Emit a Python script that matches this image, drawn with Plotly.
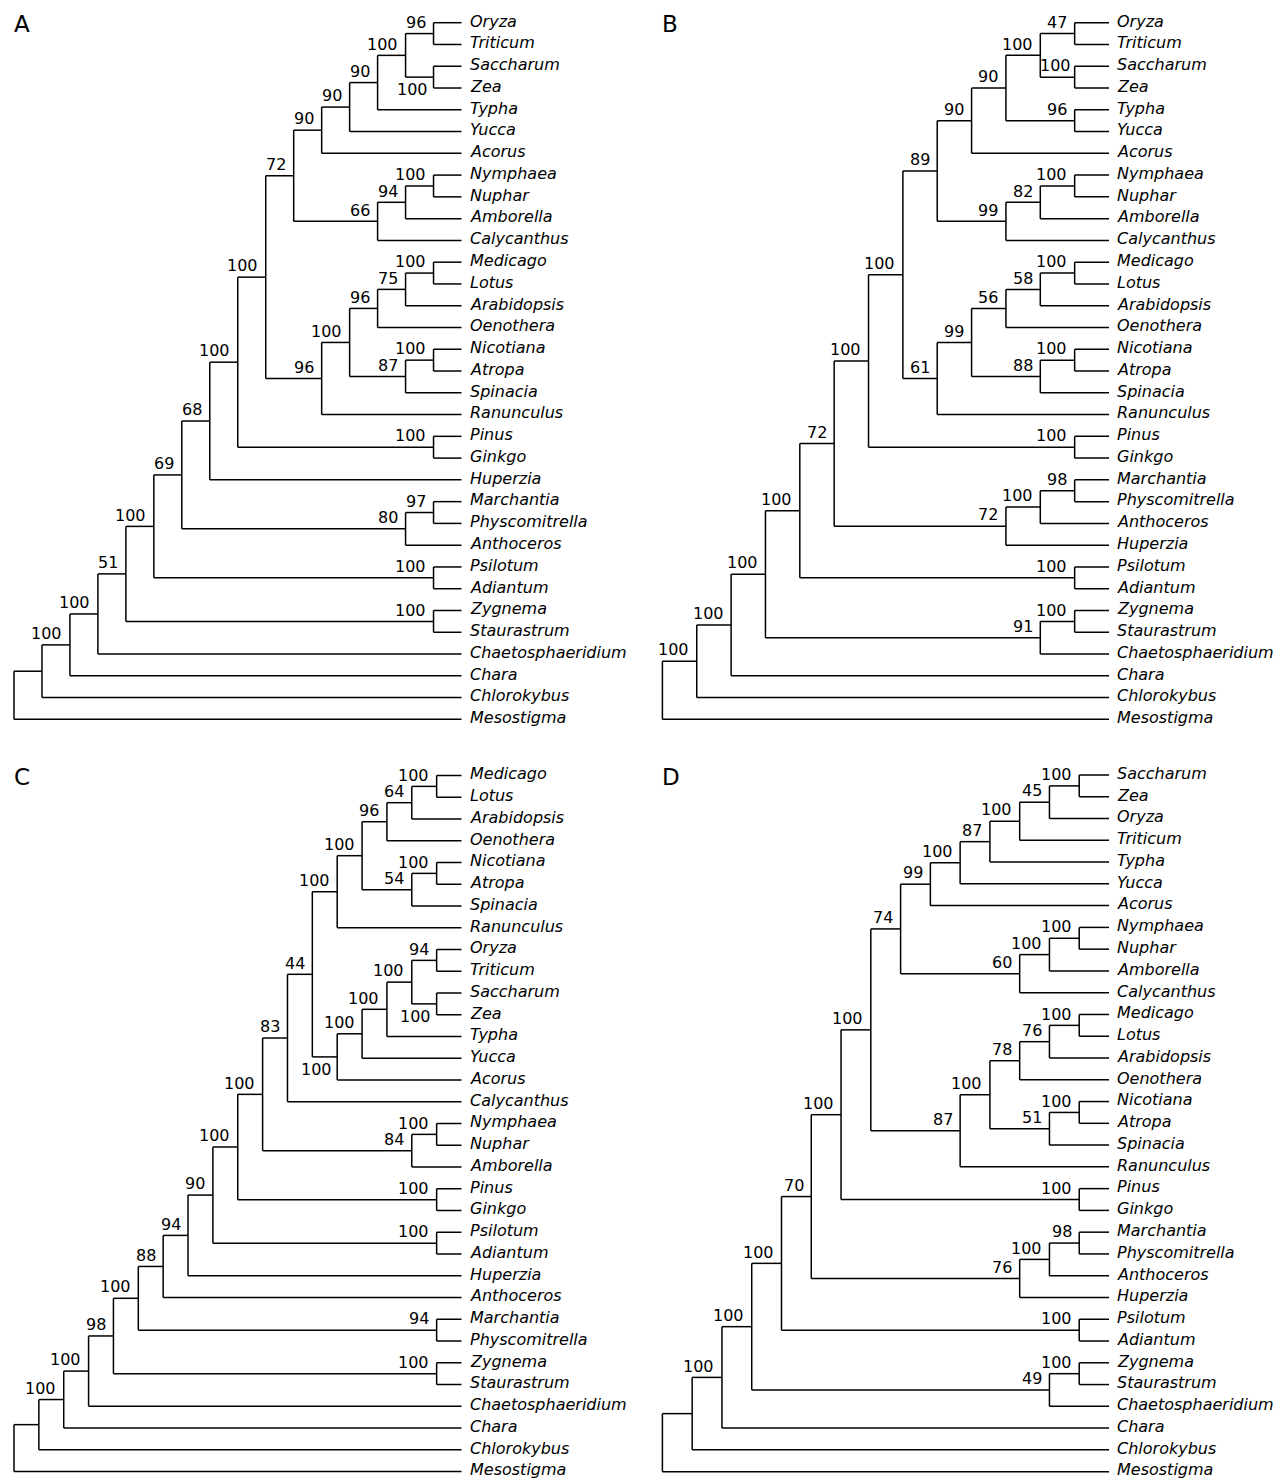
import plotly.graph_objects as go

# ---------------- data: trees as nested tuples (support, child1, child2, ...) ----------------
MONO_A = (90, (90, (90, (100, (96, "Oryza", "Triticum"), (100, "Saccharum", "Zea")), "Typha"), "Yucca"), "Acorus")
MAG_A = (66, (94, (100, "Nymphaea", "Nuphar"), "Amborella"), "Calycanthus")
EUD_A = (96, (100, (96, (75, (100, "Medicago", "Lotus"), "Arabidopsis"), "Oenothera"),
              (87, (100, "Nicotiana", "Atropa"), "Spinacia")), "Ranunculus")
TREE_A = (None, (None, (100, (100, (51, (100, (69, (68, (100, (100, (72, MONO_A, MAG_A), EUD_A),
                                                           (100, "Pinus", "Ginkgo")),
                                                     "Huperzia"),
                                                (80, (97, "Marchantia", "Physcomitrella"), "Anthoceros")),
                                          (100, "Psilotum", "Adiantum")),
                                    (100, "Zygnema", "Staurastrum")),
                              "Chaetosphaeridium"),
                        "Chara"),
                  "Chlorokybus"),
          "Mesostigma")

MONO_B = (90, (90, (100, (47, "Oryza", "Triticum"), (100, "Saccharum", "Zea")), (96, "Typha", "Yucca")), "Acorus")
MAG_B = (99, (82, (100, "Nymphaea", "Nuphar"), "Amborella"), "Calycanthus")
EUD_B = (61, (99, (56, (58, (100, "Medicago", "Lotus"), "Arabidopsis"), "Oenothera"),
              (88, (100, "Nicotiana", "Atropa"), "Spinacia")), "Ranunculus")
TREE_B = (None, (100, (100, (100, (100, (72, (100, (100, (89, MONO_B, MAG_B), EUD_B),
                                                (100, "Pinus", "Ginkgo")),
                                          (72, (100, (98, "Marchantia", "Physcomitrella"), "Anthoceros"), "Huperzia")),
                                    (100, "Psilotum", "Adiantum")),
                              (91, (100, "Zygnema", "Staurastrum"), "Chaetosphaeridium")),
                        "Chara"),
                  "Chlorokybus"),
          "Mesostigma")

EUD_C = (100, (100, (96, (64, (100, "Medicago", "Lotus"), "Arabidopsis"), "Oenothera"),
               (54, (100, "Nicotiana", "Atropa"), "Spinacia")), "Ranunculus")
MONO_C = (100, (100, (100, (100, (94, "Oryza", "Triticum"), (100, "Saccharum", "Zea")), "Typha"), "Yucca"), "Acorus")
TREE_C = (None, (None, (100, (100, (98, (100, (88, (94, (90, (100, (100, (83, (44, EUD_C, MONO_C), "Calycanthus"),
                                                                      (84, (100, "Nymphaea", "Nuphar"), "Amborella")),
                                                                (100, "Pinus", "Ginkgo")),
                                                          (100, "Psilotum", "Adiantum")),
                                                    "Huperzia"),
                                              "Anthoceros"),
                                        (94, "Marchantia", "Physcomitrella")),
                                  (100, "Zygnema", "Staurastrum")),
                            "Chaetosphaeridium"),
                      "Chara"),
                "Chlorokybus"),
          "Mesostigma")

MONO_D = (99, (100, (87, (100, (45, (100, "Saccharum", "Zea"), "Oryza"), "Triticum"), "Typha"), "Yucca"), "Acorus")
MAG_D = (60, (100, (100, "Nymphaea", "Nuphar"), "Amborella"), "Calycanthus")
EUD_D = (87, (100, (78, (76, (100, "Medicago", "Lotus"), "Arabidopsis"), "Oenothera"),
              (51, (100, "Nicotiana", "Atropa"), "Spinacia")), "Ranunculus")
TREE_D = (None, (None, (100, (100, (100, (70, (100, (100, (74, MONO_D, MAG_D), EUD_D),
                                                (100, "Pinus", "Ginkgo")),
                                          (76, (100, (98, "Marchantia", "Physcomitrella"), "Anthoceros"), "Huperzia")),
                                    (100, "Psilotum", "Adiantum")),
                              (49, (100, "Zygnema", "Staurastrum"), "Chaetosphaeridium")),
                        "Chara"),
                  "Chlorokybus"),
          "Mesostigma")

PANEL_LETTERS = ["A", "B", "C", "D"]
TREES = [TREE_A, TREE_B, TREE_C, TREE_D]
# clades whose support label is drawn below the branch (crowded spots)
BELOW = {
    "A": [{"Saccharum", "Zea"}],
    "B": [],
    "C": [{"Saccharum", "Zea"}, {"Oryza", "Triticum", "Saccharum", "Zea", "Typha", "Yucca", "Acorus"}],
    "D": [],
}
# clades whose label is squeezed closer to its node (short branch)
TIGHT = {"A": [], "B": [{"Saccharum", "Zea"}], "C": [], "D": []}

# ---------------- layout (style) ----------------
GEOM = {  # root_x, leaf_x, top_y, row_h, letter_x, letter_y
    "A": (14.0, 461.5, 22.7, 21.77, 12.5, 23.5),
    "B": (662.4, 1109.0, 22.7, 21.77, 661.0, 23.5),
    "C": (14.0, 461.5, 775.5, 21.75, 12.5, 777.0),
    "D": (662.4, 1109.0, 775.0, 21.77, 661.0, 777.0),
}
FONT = "DejaVu Sans"
FS = 16
LW = 1.5


def height(n):
    if isinstance(n, str):
        return 0
    return 1 + max(height(c) for c in n[1:])


fig = go.Figure()
annotations = []

for letter, tree in zip(PANEL_LETTERS, TREES):
    root_x, leaf_x, top_y, row_h, lx, ly = GEOM[letter]
    H = height(tree)
    step = (leaf_x - root_x) / H
    xs, ys = [], []
    leaves = []
    below = BELOW[letter]
    tight = TIGHT[letter]

    def place(n, parent_x):
        if isinstance(n, str):
            y = top_y + len(leaves) * row_h
            leaves.append(n)
            x = leaf_x
            clade = {n}
            annotations.append(dict(x=x + 7, y=y - 1.7, xref="x", yref="y", text="<i>%s</i>" % n,
                                    showarrow=False, xanchor="left", yanchor="middle", borderpad=0,
                                    font=dict(family=FONT, size=FS, color="black")))
        else:
            x = leaf_x - height(n) * step
            res = [place(c, x) for c in n[1:]]
            y = (res[0][0] + res[-1][0]) / 2.0
            clade = set().union(*[r[1] for r in res])
            xs.extend([x, x, None])
            ys.extend([res[0][0], res[-1][0], None])
            sup = n[0]
            if sup is not None:
                if any(clade == b for b in below):
                    lxp, lyp = x - 4.5, y + 12.5
                elif any(clade == b for b in tight):
                    lxp, lyp = x - 3.0, y - 11.3
                else:
                    lxp, lyp = x - 6.5, y - 11.3
                annotations.append(dict(x=lxp, y=lyp, xref="x", yref="y", text=str(sup),
                                        showarrow=False, xanchor="right", yanchor="middle", borderpad=0,
                                        font=dict(family=FONT, size=FS, color="black")))
        if parent_x is not None:
            xs.extend([parent_x, x, None])
            ys.extend([y, y, None])
        return y, clade

    place(tree, None)
    fig.add_trace(go.Scatter(x=xs, y=ys, mode="lines", line=dict(color="black", width=LW),
                             hoverinfo="skip", showlegend=False))
    annotations.append(dict(x=lx, y=ly, xref="x", yref="y", text=letter, showarrow=False,
                            xanchor="left", yanchor="middle", borderpad=0,
                            font=dict(family=FONT, size=23, color="black")))

fig.update_layout(
    width=1288, height=1478,
    margin=dict(l=0, r=0, t=0, b=0),
    paper_bgcolor="white", plot_bgcolor="white",
    xaxis=dict(range=[0, 1288], visible=False, fixedrange=True),
    yaxis=dict(range=[1478, 0], visible=False, fixedrange=True),
    annotations=annotations,
    showlegend=False,
)
fig.write_html("out.html", config={"displayModeBar": False},
               post_script="document.body.style.margin='0';document.body.style.padding='0';document.body.style.overflow='hidden';")
